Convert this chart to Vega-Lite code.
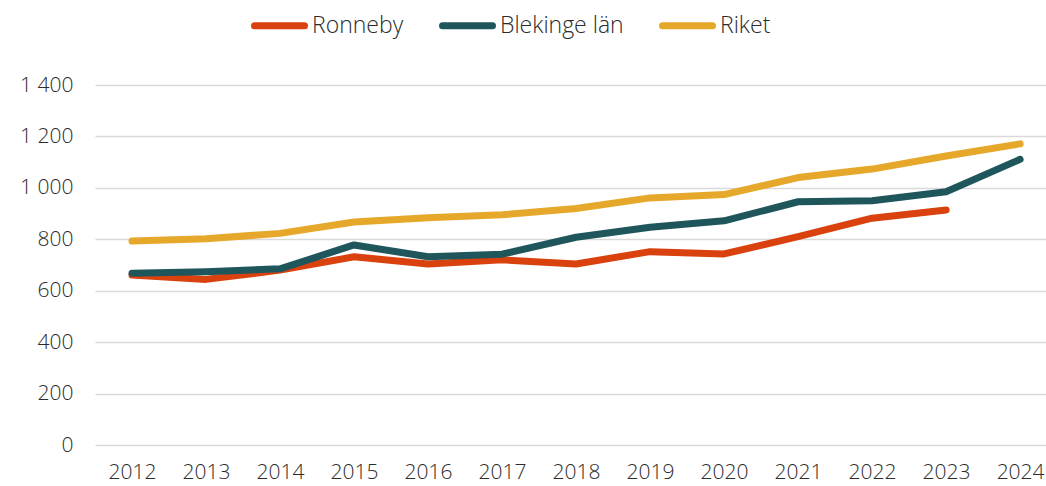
{
  "$schema": "https://vega.github.io/schema/vega-lite/v6.json",
  "autosize": {"type": "none"},
  "padding": {"left": 95, "top": 85, "right": 0, "bottom": 41},
  "width": 951,
  "height": 360,
  "background": "white",
  "config": {
    "font": "Open Sans",
    "view": {"stroke": null},
    "axis": {"labelFont": "Open Sans", "labelFontWeight": 300, "labelColor": "#2b2b2b", "labelFontSize": 21}
  },
  "data": {
    "values": [
      {"year": 2012, "region": "Ronneby", "value": 661},
      {"year": 2013, "region": "Ronneby", "value": 644},
      {"year": 2014, "region": "Ronneby", "value": 680},
      {"year": 2015, "region": "Ronneby", "value": 732},
      {"year": 2016, "region": "Ronneby", "value": 704},
      {"year": 2017, "region": "Ronneby", "value": 720},
      {"year": 2018, "region": "Ronneby", "value": 704},
      {"year": 2019, "region": "Ronneby", "value": 752},
      {"year": 2020, "region": "Ronneby", "value": 743},
      {"year": 2021, "region": "Ronneby", "value": 810},
      {"year": 2022, "region": "Ronneby", "value": 882},
      {"year": 2023, "region": "Ronneby", "value": 914},
      {"year": 2012, "region": "Blekinge län", "value": 668},
      {"year": 2013, "region": "Blekinge län", "value": 674},
      {"year": 2014, "region": "Blekinge län", "value": 685},
      {"year": 2015, "region": "Blekinge län", "value": 778},
      {"year": 2016, "region": "Blekinge län", "value": 732},
      {"year": 2017, "region": "Blekinge län", "value": 742},
      {"year": 2018, "region": "Blekinge län", "value": 808},
      {"year": 2019, "region": "Blekinge län", "value": 847},
      {"year": 2020, "region": "Blekinge län", "value": 872},
      {"year": 2021, "region": "Blekinge län", "value": 946},
      {"year": 2022, "region": "Blekinge län", "value": 950},
      {"year": 2023, "region": "Blekinge län", "value": 985},
      {"year": 2024, "region": "Blekinge län", "value": 1111},
      {"year": 2012, "region": "Riket", "value": 793},
      {"year": 2013, "region": "Riket", "value": 802},
      {"year": 2014, "region": "Riket", "value": 823},
      {"year": 2015, "region": "Riket", "value": 867},
      {"year": 2016, "region": "Riket", "value": 884},
      {"year": 2017, "region": "Riket", "value": 895},
      {"year": 2018, "region": "Riket", "value": 920},
      {"year": 2019, "region": "Riket", "value": 961},
      {"year": 2020, "region": "Riket", "value": 974},
      {"year": 2021, "region": "Riket", "value": 1040},
      {"year": 2022, "region": "Riket", "value": 1073},
      {"year": 2023, "region": "Riket", "value": 1124},
      {"year": 2024, "region": "Riket", "value": 1171}
    ]
  },
  "mark": {"type": "line", "strokeWidth": 7, "strokeCap": "round", "strokeJoin": "round"},
  "encoding": {
    "x": {
      "field": "year",
      "type": "quantitative",
      "scale": {"domain": [2011.5, 2024.35], "nice": false, "zero": false},
      "axis": {
        "title": null,
        "values": [2012, 2013, 2014, 2015, 2016, 2017, 2018, 2019, 2020, 2021, 2022, 2023, 2024],
        "format": "d",
        "grid": false,
        "domain": false,
        "ticks": false,
        "labelPadding": 16,
        "labelFlush": false,
        "labelOverlap": false
      }
    },
    "y": {
      "field": "value",
      "type": "quantitative",
      "scale": {"domain": [0, 1400], "nice": false},
      "axis": {
        "title": null,
        "values": [0, 200, 400, 600, 800, 1000, 1200, 1400],
        "labelExpr": "replace(format(datum.value, ','), ',', ' ')",
        "grid": true,
        "gridColor": "#d9d9d9",
        "gridWidth": 1.4,
        "domain": false,
        "ticks": false,
        "labelPadding": 22
      }
    },
    "color": {
      "field": "region",
      "type": "nominal",
      "sort": ["Ronneby", "Blekinge län", "Riket"],
      "scale": {"domain": ["Ronneby", "Blekinge län", "Riket"], "range": ["#D9410F", "#1F565C", "#E6A82B"]},
      "legend": {
        "title": null,
        "orient": "none",
        "direction": "horizontal",
        "legendX": 156,
        "legendY": -88,
        "symbolType": "stroke",
        "symbolSize": 2500,
        "symbolStrokeWidth": 7,
        "labelFont": "Open Sans",
        "labelFontWeight": 300,
        "labelFontSize": 23,
        "labelColor": "#2b2b2b",
        "labelOffset": 4,
        "columnPadding": 24,
        "encode": {"symbols": {"update": {"strokeCap": {"value": "round"}}}}
      }
    }
  }
}
